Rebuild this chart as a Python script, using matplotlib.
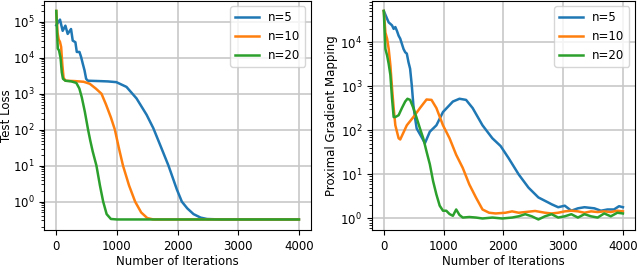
import matplotlib
matplotlib.use("Agg")
import matplotlib.pyplot as plt

# Test Loss (lewy panel)
it_loss_n5 = [0, 61, 105, 150, 188, 243, 271, 315, 338, 382, 409, 437, 465, 492, 520, 700, 850, 990,
              1157, 1323, 1489, 1600, 1720, 1850, 1987, 2070, 2160, 2263, 2380, 2484, 2700, 4000]
loss_n5 = [8e4, 1.15e5, 5.6e4, 7.8e4, 4.6e4, 6.3e4, 3.0e4, 2.7e4, 1.45e4, 1.45e4, 1.05e4, 6.8e3, 4.5e3,
           2.6e3, 2.3e3, 2.25e3, 2.2e3, 2.1e3, 1.55e3, 7.4e2, 2.6e2, 1.1e2, 35, 10, 2.2, 1.0, 0.65,
           0.45, 0.36, 0.33, 0.32, 0.32]

it_loss_n10 = [0, 20, 40, 60, 80, 100, 120, 150, 300, 450, 550, 650, 745, 820, 900, 966, 1030, 1100,
               1200, 1300, 1400, 1500, 1600, 4000]
loss_n10 = [2e5, 5e4, 3.2e4, 2.8e4, 2e4, 6.3e3, 2.8e3, 2.3e3, 2.25e3, 2.15e3, 1.9e3, 1.4e3, 1e3, 5e2,
            2.2e2, 1e2, 32, 10, 2.8, 1.0, 0.5, 0.35, 0.32, 0.32]

it_loss_n20 = [0, 15, 25, 45, 70, 90, 110, 150, 250, 330, 380, 420, 470, 524, 560, 600, 662, 720, 773,
               830, 900, 1000, 4000]
loss_n20 = [2e5, 4e4, 1.8e4, 1.6e4, 1e4, 4e3, 2.6e3, 2.3e3, 2.2e3, 2e3, 1.4e3, 8e2, 3.2e2, 1e2, 50, 25,
            10, 2.8, 1.0, 0.45, 0.33, 0.32, 0.32]

# Proximal Gradient Mapping (prawy panel)
it_pgm_n5 = [0, 55, 82, 110, 138, 165, 193, 220, 248, 275, 330, 358, 385, 413, 440, 468, 495, 523, 550,
             620, 688, 770, 880, 990, 1156, 1266, 1376, 1486, 1651, 1816, 1954, 2091, 2256, 2421, 2586,
             2752, 2807, 2917, 3027, 3137, 3247, 3357, 3522, 3632, 3742, 3850, 3935, 4000]
pgm_n5 = [5.1e4, 3.4e4, 2.8e4, 2.6e4, 2.4e4, 2.0e4, 2.2e4, 1.8e4, 1.4e4, 1.2e4, 7e3, 5.9e3, 5.5e3,
          3.5e3, 2.5e3, 1.05e3, 3.7e2, 1.9e2, 1.1e2, 75, 51, 93, 1.3e2, 2.6e2, 4.5e2, 5.2e2, 4.9e2,
          3.2e2, 1.3e2, 66, 44, 23, 10, 5, 3.0, 2.3, 2.1, 1.8, 1.95, 1.5, 1.7, 1.8, 1.7, 1.5, 1.6,
          1.6, 1.9, 1.8]

it_pgm_n10 = [0, 27, 55, 82, 110, 138, 165, 193, 248, 275, 385, 495, 605, 715, 798, 880, 990, 1100,
              1210, 1321, 1431, 1541, 1651, 1761, 1871, 2036, 2146, 2256, 2366, 2531, 2696, 2807,
              2917, 3027, 3137, 3247, 3357, 3467, 3577, 3687, 3797, 3907, 4000]
pgm_n10 = [5.1e4, 1.65e4, 1.2e4, 7e3, 3e3, 9e2, 3.2e2, 1.3e2, 66, 62, 1.3e2, 2.0e2, 3.2e2, 5e2,
           4.9e2, 3.2e2, 1.3e2, 66, 28, 14, 5.9, 3.0, 1.6, 1.35, 1.3, 1.35, 1.45, 1.35, 1.4, 1.48,
           1.35, 1.3, 1.35, 1.45, 1.5, 1.45, 1.35, 1.45, 1.4, 1.45, 1.4, 1.5, 1.45]

it_pgm_n20 = [0, 15, 27, 55, 82, 110, 138, 165, 193, 248, 303, 358, 396, 440, 495, 550, 605, 660, 715,
              770, 825, 880, 935, 990, 1045, 1100, 1156, 1211, 1266, 1321, 1431, 1541, 1651, 1816,
              1981, 2146, 2256, 2366, 2476, 2586, 2696, 2807, 2917, 3027, 3137, 3247, 3357, 3467,
              3577, 3687, 3797, 3907, 4000]
pgm_n20 = [5.1e4, 1.6e4, 7e3, 5e3, 3.2e3, 1.8e3, 5.2e2, 2.0e2, 2.0e2, 2.2e2, 3.2e2, 4.5e2, 5.2e2,
           4.9e2, 3.2e2, 1.9e2, 1.1e2, 66, 33, 17, 7, 3.5, 1.95, 1.5, 1.5, 1.26, 1.15, 1.6, 1.2,
           1.05, 1.08, 1.05, 1.0, 1.05, 1.0, 1.05, 1.12, 1.25, 1.12, 0.95, 1.12, 1.25, 1.05, 1.12,
           1.25, 1.05, 1.25, 1.12, 1.05, 1.3, 1.12, 1.35, 1.3]

labels = ['n=5', 'n=10', 'n=20']

plt.rcParams['font.size'] = 8.5
plt.rcParams['lines.linewidth'] = 1.8
plt.rcParams['grid.color'] = '#c8c8c8'
plt.rcParams['grid.linewidth'] = 1.2

fig = plt.figure(figsize=(6.4, 2.67), dpi=100)
ax1 = fig.add_axes([0.069, 0.139, 0.417, 0.859])
ax2 = fig.add_axes([0.581, 0.139, 0.411, 0.859])

ax1.plot(it_loss_n5, loss_n5, label=labels[0])
ax1.plot(it_loss_n10, loss_n10, label=labels[1])
ax1.plot(it_loss_n20, loss_n20, label=labels[2])
ax1.set_yscale('log')
ax1.set_xlabel('Number of Iterations', labelpad=2)
ax1.set_ylabel('Test Loss')
ax1.yaxis.set_label_coords(-0.115, 0.5)
ax1.legend(loc='upper right')
ax1.grid(True)

ax2.plot(it_pgm_n5, pgm_n5, label=labels[0])
ax2.plot(it_pgm_n10, pgm_n10, label=labels[1])
ax2.plot(it_pgm_n20, pgm_n20, label=labels[2])
ax2.set_yscale('log')
ax2.set_xlabel('Number of Iterations', labelpad=2)
ax2.set_ylabel('Proximal Gradient Mapping')
ax2.yaxis.set_label_coords(-0.13, 0.5)
ax2.legend(loc='upper right')
ax2.grid(True)

fig.savefig('out.png', dpi=100)
